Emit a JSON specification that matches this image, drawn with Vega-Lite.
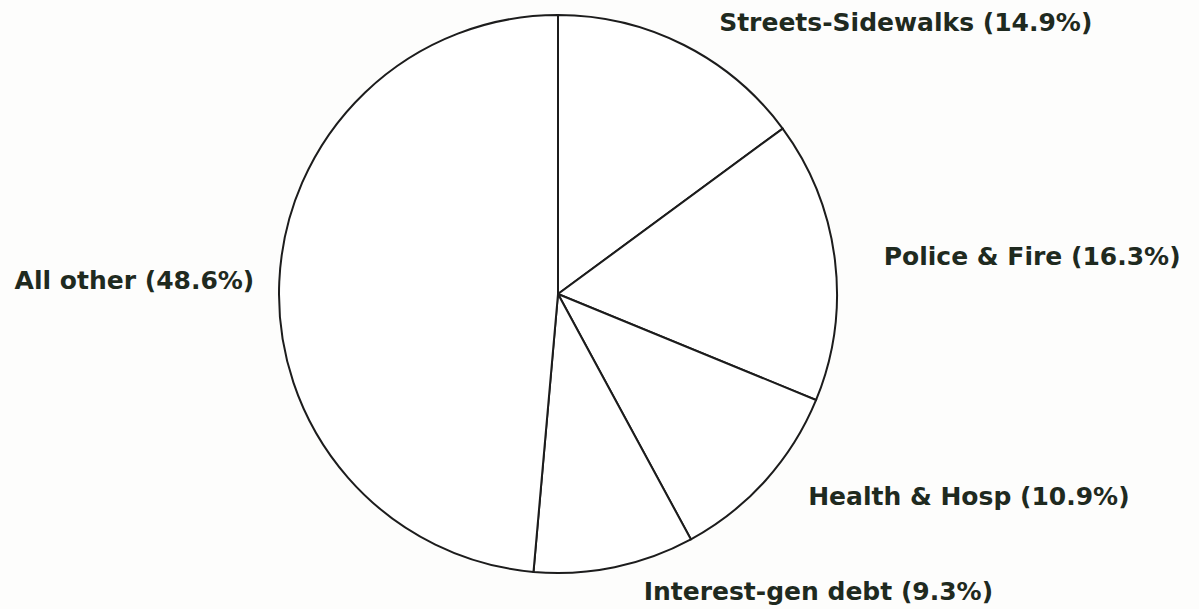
{
  "$schema": "https://vega.github.io/schema/vega-lite/v6.json",
  "width": 1116,
  "height": 588,
  "autosize": {"type": "none"},
  "padding": {"left": 0, "top": 0, "right": 83, "bottom": 21},
  "background": "#fdfdfc",
  "config": {"view": {"stroke": null}},
  "data": {
    "values": [
      {"category": "Streets-Sidewalks", "pct": 14.9, "order": 1, "label": "Streets-Sidewalks (14.9%)"},
      {"category": "Police & Fire", "pct": 16.3, "order": 2, "label": "Police & Fire (16.3%)"},
      {"category": "Health & Hosp", "pct": 10.9, "order": 3, "label": "Health & Hosp (10.9%)"},
      {"category": "Interest-gen debt", "pct": 9.3, "order": 4, "label": "Interest-gen debt (9.3%)"},
      {"category": "All other", "pct": 48.6, "order": 5, "label": "All other (48.6%)"}
    ]
  },
  "encoding": {
    "theta": {"field": "pct", "type": "quantitative", "stack": true},
    "order": {"field": "order", "type": "quantitative"}
  },
  "layer": [
    {
      "mark": {"type": "arc", "outerRadius": 279, "fill": "#ffffff", "stroke": "#1c1c1c", "strokeWidth": 2}
    },
    {
      "mark": {
        "type": "text",
        "radius": 304,
        "font": "DejaVu Sans",
        "fontWeight": "bold",
        "fontSize": 25,
        "fill": "#1f2a1f",
        "baseline": "middle",
        "align": {"expr": "datum.pct > 40 ? 'right' : 'left'"},
        "dx": {"expr": "datum.pct > 40 ? 0 : 24"}
      },
      "encoding": {"text": {"field": "label", "type": "nominal"}}
    }
  ]
}
